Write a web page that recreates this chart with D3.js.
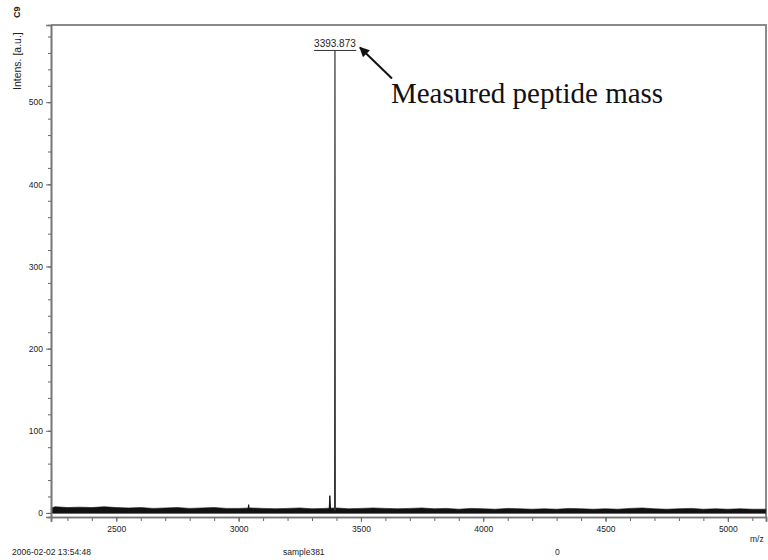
<!DOCTYPE html>
<html>
<head>
<meta charset="utf-8">
<script src="https://cdn.jsdelivr.net/npm/d3@7"></script>
<style>
  body { margin: 0; background: #fff; }
  text { font-family: "Liberation Sans", Arial, sans-serif; fill: #222; }
  text.serif { font-family: "Liberation Serif", "Times New Roman", serif; fill: #111; }
</style>
</head>
<body>
<div id="chart"></div>
<script>
// Mass spectrum, sample C9
// Axis ticks
var xTicksMajor = [2500, 3000, 3500, 4000, 4500, 5000]
var yTicksMajor = [0, 100, 200, 300, 400, 500]

// Peaks (m/z, intensity)
var peakMz = [3041, 3373, 3393.873]
var peakIntensity = [10, 21, 563]
var peakLabel = "3393.873"

// Baseline noise: top of the black band every 50 m/z
var noiseMz = [2235, 2250, 2300, 2350, 2400, 2450, 2500, 2550, 2600, 2650, 2700, 2750, 2800, 2850, 2900, 2950,
  3000, 3050, 3100, 3150, 3200, 3250, 3300, 3350, 3400, 3450, 3500, 3550, 3600, 3650, 3700, 3750,
  3800, 3850, 3900, 3950, 4000, 4050, 4100, 4150, 4200, 4250, 4300, 4350, 4400, 4450, 4500, 4550,
  4600, 4650, 4700, 4750, 4800, 4850, 4900, 4950, 5000, 5050, 5100, 5155]
var noiseTop = [6, 7.5, 6.5, 7, 6.5, 7.5, 6.5, 6, 6.5, 5.5, 6, 6.5, 5.5, 6, 6.5, 5.5,
  5.5, 6, 5.5, 5, 5.5, 6, 5, 5.5, 6, 5, 5.5, 6, 5.5, 5, 5.5, 6,
  5, 5.5, 4.5, 5.5, 5, 4.5, 5.5, 5, 4.5, 5, 4.5, 5.5, 5, 4.5, 5, 4.5,
  5.5, 6, 5, 4.5, 5, 5.5, 4.5, 5, 4.5, 5, 4.5, 4.5]
var noiseBottom = -0.5

var width = 768, height = 560

var svg = d3.select("#chart")
  .append("svg")
  .attr("width", width)
  .attr("height", height)

// Scales (x axis line sits a few units below zero)
var xScale = d3.scaleLinear()
  .domain([2233, 5156])
  .range([51, 766])

var yScale = d3.scaleLinear()
  .domain([-5, 594])
  .range([517, 25])

// Frame: top and right edges
svg.append("path")
  .attr("d", "M" + xScale.range()[0] + "," + yScale.range()[1] +
    "H" + xScale.range()[1] + "V" + yScale.range()[0])
  .attr("fill", "none")
  .attr("stroke", "#8a8a8a")
  .attr("stroke-width", 2)

// Noise band
var noiseArea = d3.area()
  .x(function(d, i) { return xScale(noiseMz[i]) })
  .y0(yScale(noiseBottom))
  .y1(function(d) { return yScale(d) })

svg.append("path")
  .datum(noiseTop)
  .attr("d", noiseArea)
  .attr("fill", "#111")
  .attr("stroke", "#111")
  .attr("stroke-width", 0.6)

// Peaks as narrow spikes
peakMz.forEach(function(mz, i) {
  var w = i === 2 ? 1.5 : 3
  var pts = [[mz - w, 3], [mz, peakIntensity[i]], [mz + w, 3]]
  svg.append("path")
    .attr("d", d3.line()
      .x(function(d) { return xScale(d[0]) })
      .y(function(d) { return yScale(d[1]) })(pts))
    .attr("fill", i === 2 ? "none" : "#111")
    .attr("stroke", i === 2 ? "#333" : "#111")
    .attr("stroke-width", i === 2 ? 1.2 : 1)
})

// Axes
var xAxisMinor = d3.axisBottom(xScale)
  .tickValues(d3.range(2300, 5156, 100))
  .tickSize(4)
  .tickFormat("")
var xAxis = d3.axisBottom(xScale)
  .tickValues(xTicksMajor)
  .tickSize(5)
  .tickPadding(4)
  .tickFormat(d3.format("d"))

var yAxisMinor = d3.axisLeft(yScale)
  .tickValues(d3.range(0, 594, 20))
  .tickSize(3)
  .tickFormat("")
var yAxis = d3.axisLeft(yScale)
  .tickValues(yTicksMajor)
  .tickSize(5)
  .tickPadding(3)
  .tickFormat(d3.format("d"))

function styleAxis(g) {
  g.select(".domain").attr("stroke", "#777").attr("stroke-width", 1.6)
  g.selectAll(".tick line").attr("stroke", "#666")
  g.selectAll(".tick text").attr("font-size", 8.5).attr("fill", "#222")
}

svg.append("g").attr("transform", "translate(0," + yScale.range()[0] + ")")
  .call(xAxisMinor).call(styleAxis)
svg.append("g").attr("transform", "translate(0," + yScale.range()[0] + ")")
  .call(xAxis).call(styleAxis)
svg.append("g").attr("transform", "translate(" + xScale.range()[0] + ",0)")
  .call(yAxisMinor).call(styleAxis)
svg.append("g").attr("transform", "translate(" + xScale.range()[0] + ",0)")
  .call(yAxis).call(styleAxis)

// Peak label, underlined
var px = xScale(peakMz[2]), py = yScale(peakIntensity[2])
var lbl = svg.append("text")
  .text(peakLabel)
  .attr("x", px)
  .attr("y", py - 3)
  .attr("text-anchor", "middle")
  .attr("font-size", 10)
var bb = lbl.node().getBBox()
svg.append("line")
  .attr("x1", bb.x).attr("x2", bb.x + bb.width)
  .attr("y1", py).attr("y2", py)
  .attr("stroke", "#333").attr("stroke-width", 1)

// Annotation arrow
svg.append("defs").append("marker")
  .attr("id", "head")
  .attr("viewBox", "0 0 10 10")
  .attr("refX", 9).attr("refY", 5)
  .attr("markerWidth", 13).attr("markerHeight", 10)
  .attr("markerUnits", "userSpaceOnUse")
  .attr("orient", "auto")
  .append("path")
  .attr("d", "M0,0L10,5L0,10Z")
  .attr("fill", "#111")

svg.append("line")
  .attr("x1", px + 57).attr("y1", py + 28)
  .attr("x2", px + 25).attr("y2", py - 3)
  .attr("stroke", "#111")
  .attr("stroke-width", 2)
  .attr("marker-end", "url(#head)")

svg.append("text")
  .attr("class", "serif")
  .text("Measured peptide mass")
  .attr("x", px + 56)
  .attr("y", py + 53)
  .attr("font-size", 29)

// Corner labels
svg.append("text")
  .text("C9")
  .attr("transform", "translate(20,18) rotate(-90)")
  .attr("font-size", 9)
  .attr("font-weight", "bold")

svg.append("text")
  .text("Intens. [a.u.]")
  .attr("transform", "translate(21,90) rotate(-90)")
  .attr("font-size", 10.5)

svg.append("text")
  .text("m/z")
  .attr("x", 750).attr("y", 542)
  .attr("font-size", 8.5)

// Footer
svg.append("text").text("2006-02-02 13:54:48")
  .attr("x", 12).attr("y", 555).attr("font-size", 8.5)
svg.append("text").text("sample381")
  .attr("x", 283).attr("y", 555).attr("font-size", 8.5)
svg.append("text").text("0")
  .attr("x", 555).attr("y", 555).attr("font-size", 8.5)
</script>
</body>
</html>
